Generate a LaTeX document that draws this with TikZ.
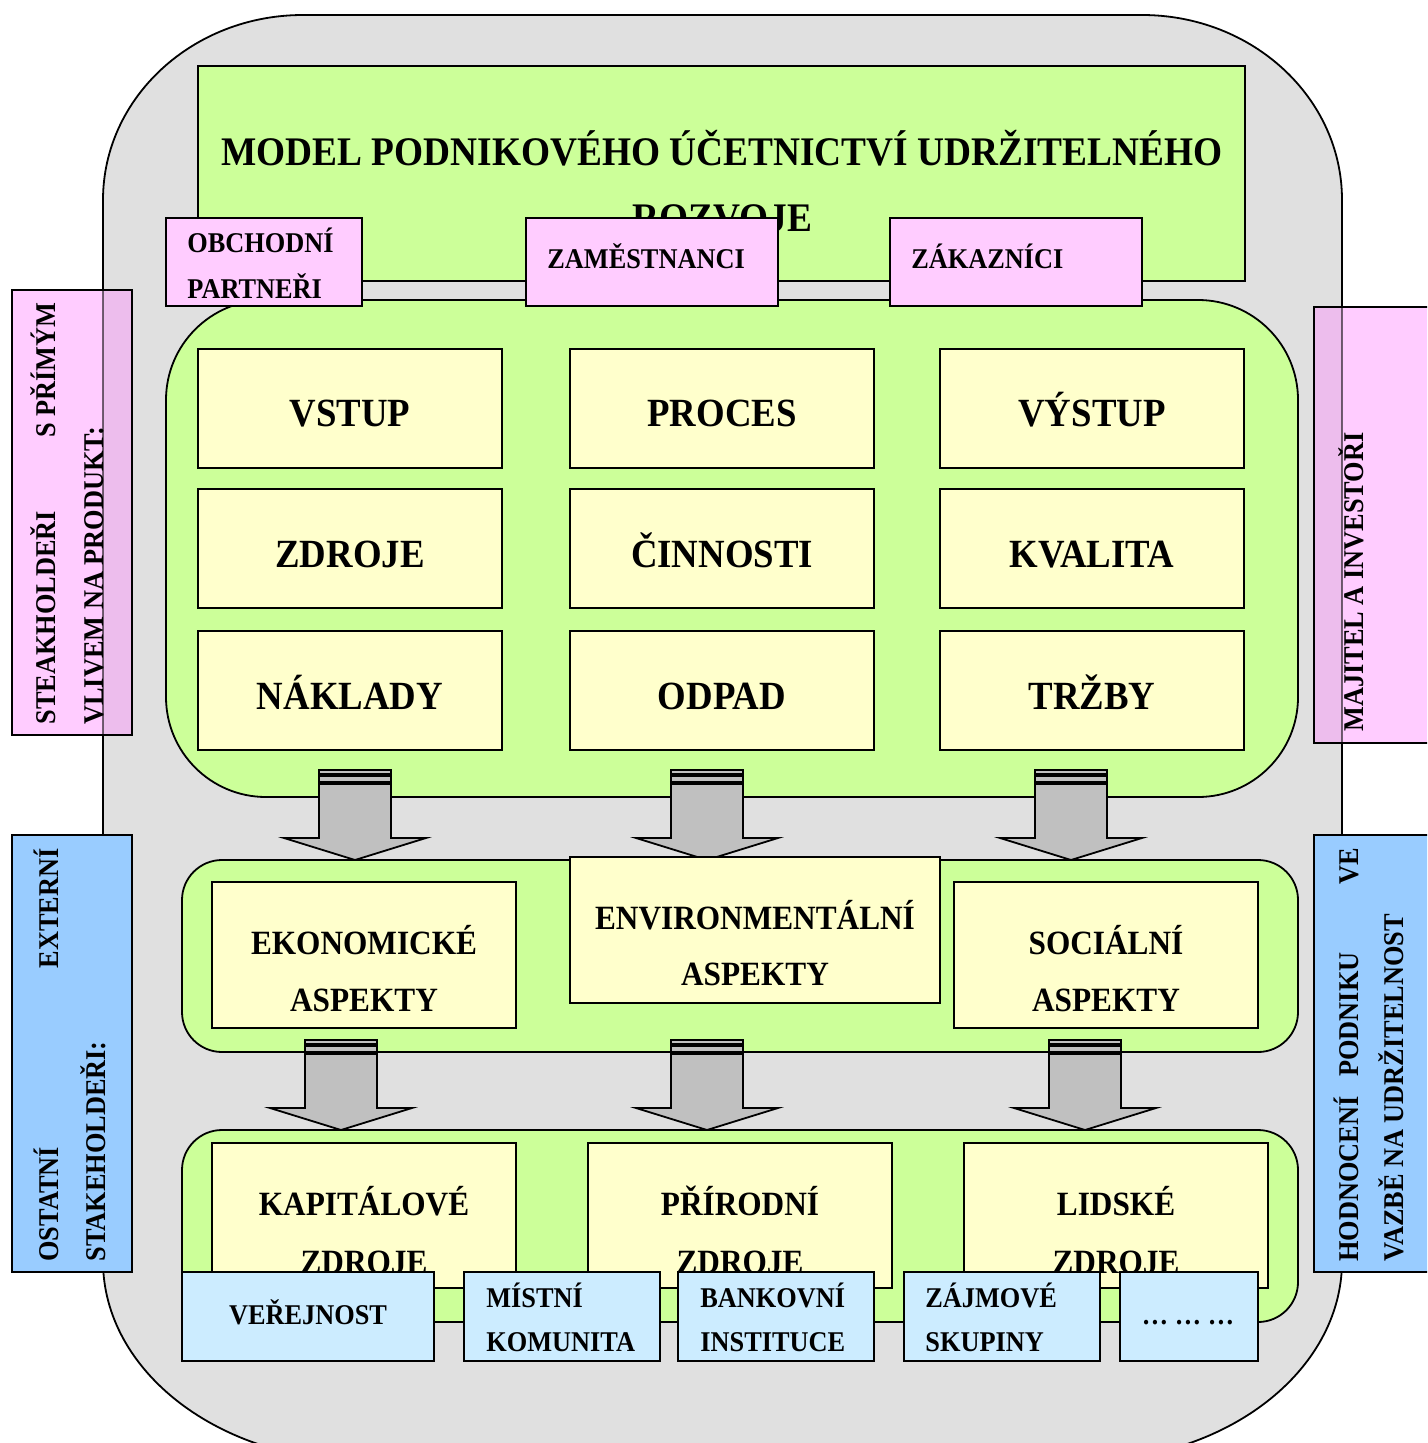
\documentclass[tikz,border=0pt]{standalone}
\usepackage{fontspec}
\setmainfont{Liberation Serif}[FakeStretch=0.92]
\usetikzlibrary{fit}

\definecolor{shellgray}{RGB}{224,224,224}
\definecolor{leafgreen}{RGB}{204,255,153}
\definecolor{paleyellow}{RGB}{255,255,204}
\definecolor{softpink}{RGB}{255,204,255}
\definecolor{skyblue}{RGB}{153,204,255}
\definecolor{iceblue}{RGB}{204,236,255}
\definecolor{arrowgray}{RGB}{192,192,192}

% outline of the large rounded background panel
\def\shellpath{(103,200) .. controls (103,97.8) and (192.5,15) .. (303,15)
  -- (1142,15) .. controls (1252.5,15) and (1342,97.8) .. (1342,200)
  -- (1342,1261) .. controls (1342,1371.5) and (1225.6,1461) .. (1082,1461)
  -- (363,1461) .. controls (219.4,1461) and (103,1371.5) .. (103,1261) -- cycle}

% striped block arrow pointing down, top centre given as argument
\newcommand\stripedarrow[1]{%
  \begin{scope}[shift={#1}]
    \draw[stripe] (-36,0) rectangle (36,4);
    \draw[stripe] (-36,6) rectangle (36,12);
    \draw[flowarrow] (-36,14) -- (36,14) -- (36,68) -- (71,68) -- (0,90)
      -- (-71,68) -- (-36,68) -- cycle;
  \end{scope}}

\tikzset{
  frame/.style={draw=black, line width=0.9pt, inner sep=0pt, outer sep=0pt, rectangle},
  greenbox/.style={frame, fill=leafgreen},
  yellowbox/.style={frame, fill=paleyellow},
  pinkbox/.style={frame, fill=softpink},
  sidebluebox/.style={frame, fill=skyblue},
  tagbox/.style={frame, fill=iceblue},
  headtext/.style={font=\fontsize{20.3}{24}\selectfont\bfseries, inner sep=0pt, anchor=base},
  bigtext/.style={font=\fontsize{20}{24}\selectfont\bfseries, inner sep=0pt, anchor=base},
  midtext/.style={font=\fontsize{17}{20}\selectfont\bfseries, inner sep=0pt, anchor=base},
  smalltext/.style={font=\fontsize{14.3}{17}\selectfont\bfseries, inner sep=0pt},
  sidetext/.style={smalltext, rotate=90},
  stripe/.style={draw=black, line width=0.8pt, fill=arrowgray},
  flowarrow/.style={draw=black, line width=0.9pt, fill=arrowgray, line join=miter},
}

\begin{document}
\begin{tikzpicture}[x=0.5pt, y=-0.5pt]
\useasboundingbox (0,0) rectangle (1427,1443);
\clip (0,0) rectangle (1427,1443);

% background panel
\fill[shellgray] \shellpath;
\draw[line width=0.9pt] \shellpath;

% title
\node[greenbox, fit={(198,66) (1245,281)}] (title) {};
\node[headtext] (ttl1) at (722,166) {MODEL PODNIKOVÉHO ÚČETNICTVÍ UDRŽITELNÉHO};
\node[headtext] (ttl2) at (722,232) {ROZVOJE};

% product block
\node[greenbox, rounded corners=50pt, fit={(166,300) (1298,797)}] (blockA) {};

% stakeholders with a direct influence on the product
\node[pinkbox, fit={(166,218) (362,306)}] (ptA) {};
\node[smalltext, anchor=base west] (ptA1) at (187,253) {OBCHODNÍ};
\node[smalltext, anchor=base west] (ptA2) at (187,299) {PARTNEŘI};
\node[pinkbox, fit={(526,218) (778,306)}] (ptB) {};
\node[smalltext, anchor=base west] (ptB1) at (547,269) {ZAMĚSTNANCI};
\node[pinkbox, fit={(890,218) (1142,306)}] (ptC) {};
\node[smalltext, anchor=base west] (ptC1) at (911,269) {ZÁKAZNÍCI};

% input - process - output grid
\node[yellowbox, fit={(198,349) (502,468)}] (g11) {};
\node[yellowbox, fit={(570,349) (874,468)}] (g12) {};
\node[yellowbox, fit={(940,349) (1244,468)}] (g13) {};
\node[yellowbox, fit={(198,489) (502,608)}] (g21) {};
\node[yellowbox, fit={(570,489) (874,608)}] (g22) {};
\node[yellowbox, fit={(940,489) (1244,608)}] (g23) {};
\node[yellowbox, fit={(198,631) (502,750)}] (g31) {};
\node[yellowbox, fit={(570,631) (874,750)}] (g32) {};
\node[yellowbox, fit={(940,631) (1244,750)}] (g33) {};
\node[bigtext] (t11) at (350,427) {VSTUP};
\node[bigtext] (t12) at (722,427) {PROCES};
\node[bigtext] (t13) at (1092,427) {VÝSTUP};
\node[bigtext] (t21) at (350,567) {ZDROJE};
\node[bigtext] (t22) at (722,567) {ČINNOSTI};
\node[bigtext] (t23) at (1092,567) {KVALITA};
\node[bigtext] (t31) at (350,709) {NÁKLADY};
\node[bigtext] (t32) at (722,709) {ODPAD};
\node[bigtext] (t33) at (1092,709) {TRŽBY};

% aspects and capital blocks
\node[greenbox, rounded corners=20pt, fit={(182,860) (1298,1052)}] (blockB) {};
\node[greenbox, rounded corners=20pt, fit={(182,1130) (1298,1322)}] (blockC) {};

% arrows between the blocks
\stripedarrow{(355,770)}
\stripedarrow{(707,770)}
\stripedarrow{(1071,770)}
\stripedarrow{(341,1040)}
\stripedarrow{(707,1040)}
\stripedarrow{(1085,1040)}

% sustainability aspects
\node[yellowbox, fit={(212,882) (516,1028)}] (asE) {};
\node[midtext] (asE1) at (364,954) {EKONOMICKÉ};
\node[midtext] (asE2) at (364,1011) {ASPEKTY};
\node[yellowbox, fit={(570,857) (940,1003)}] (asN) {};
\node[midtext] (asN1) at (755,929) {ENVIRONMENTÁLNÍ};
\node[midtext] (asN2) at (755,985) {ASPEKTY};
\node[yellowbox, fit={(954,882) (1258,1028)}] (asS) {};
\node[midtext] (asS1) at (1106,954) {SOCIÁLNÍ};
\node[midtext] (asS2) at (1106,1011) {ASPEKTY};

% capitals
\node[yellowbox, fit={(212,1143) (516,1288)}] (cpK) {};
\node[midtext] (cpK1) at (364,1215) {KAPITÁLOVÉ};
\node[midtext] (cpK2) at (364,1273) {ZDROJE};
\node[yellowbox, fit={(588,1143) (892,1288)}] (cpP) {};
\node[midtext] (cpP1) at (740,1215) {PŘÍRODNÍ};
\node[midtext] (cpP2) at (740,1273) {ZDROJE};
\node[yellowbox, fit={(964,1143) (1268,1288)}] (cpL) {};
\node[midtext] (cpL1) at (1116,1215) {LIDSKÉ};
\node[midtext] (cpL2) at (1116,1273) {ZDROJE};

% external stakeholders
\node[tagbox, fit={(182,1272) (434,1361)}] (tgA) {};
\node[smalltext, anchor=base] (tgA1) at (308,1324) {VEŘEJNOST};
\node[tagbox, fit={(464,1272) (660,1361)}] (tgB) {};
\node[smalltext, anchor=base west] (tgB1) at (486,1307) {MÍSTNÍ};
\node[smalltext, anchor=base west] (tgB2) at (486,1351) {KOMUNITA};
\node[tagbox, fit={(678,1272) (874,1361)}] (tgC) {};
\node[smalltext, anchor=base west] (tgC1) at (700,1307) {BANKOVNÍ};
\node[smalltext, anchor=base west] (tgC2) at (700,1351) {INSTITUCE};
\node[tagbox, fit={(904,1272) (1100,1361)}] (tgD) {};
\node[smalltext, anchor=base west] (tgD1) at (925,1307) {ZÁJMOVÉ};
\node[smalltext, anchor=base west] (tgD2) at (925,1351) {SKUPINY};
\node[tagbox, fit={(1120,1272) (1258,1361)}] (tgE) {};
\node[smalltext, anchor=base] (tgE1) at (1188,1324) {… … …};

% side panels
\node[pinkbox, fit={(12,290) (132,735)}] (sdA) {};
\node[pinkbox, fit={(1314,307) (1440,743)}] (sdB) {};
\node[sidebluebox, fit={(12,835) (132,1272)}] (sdC) {};
\node[sidebluebox, fit={(1314,835) (1440,1272)}] (sdD) {};

% background panel showing through the pink side panels
\begin{scope}
  \clip \shellpath;
  \fill[black, opacity=0.07] (sdA.north west) rectangle (sdA.south east);
  \fill[black, opacity=0.07] (sdB.north west) rectangle (sdB.south east);
\end{scope}
\begin{scope}
  \clip (sdA.north west) rectangle (sdA.south east)
        (sdB.north west) rectangle (sdB.south east);
  \draw[line width=0.9pt, draw opacity=0.55] \shellpath;
\end{scope}

\node[sidetext, anchor=base west] (sa1) at (55,725) {STEAKHOLDEŘI};
\node[sidetext, anchor=base east] (sa2) at (55,302) {S PŘÍMÝM};
\node[sidetext, anchor=base west] (sa3) at (103,725) {VLIVEM NA PRODUKT:};
\node[sidetext, anchor=base west] (sb1) at (1363,732) {MAJITEL A INVESTOŘI};
\node[sidetext, anchor=base west] (sc1) at (58,1262) {OSTATNÍ};
\node[sidetext, anchor=base east] (sc2) at (58,848) {EXTERNÍ};
\node[sidetext, anchor=base west] (sc3) at (105,1262) {STAKEHOLDEŘI:};
\node[sidetext, anchor=base west] (sd1) at (1358,1262) {HODNOCENÍ};
\node[sidetext, anchor=base west] (sd2) at (1358,1077) {PODNIKU};
\node[sidetext, anchor=base east] (sd3) at (1358,848) {VE};
\node[sidetext, anchor=base west] (sd4) at (1403,1262) {VAZBĚ NA UDRŽITELNOST};
\end{tikzpicture}
\end{document}
